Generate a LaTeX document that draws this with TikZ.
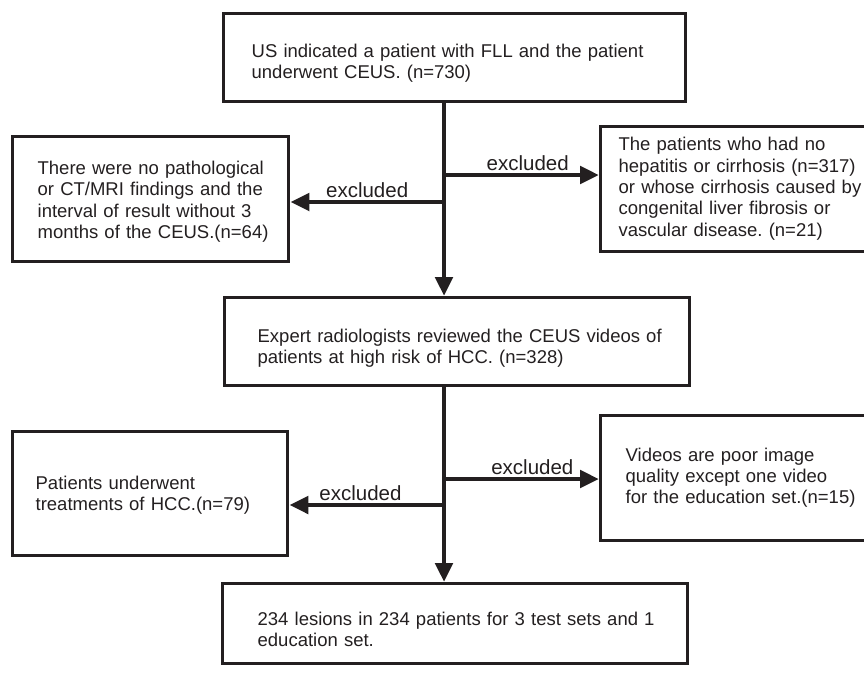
\documentclass[tikz,border=0pt]{standalone}
\usepackage{fontspec}
\setmainfont{Liberation Sans}
\usetikzlibrary{arrows.meta,positioning,calc}
\definecolor{ink}{RGB}{35,31,32}
\frenchspacing
\newcommand{\boxlines}[2][0pt]{\raisebox{-#1}[\height][\depth]{\begin{tabular}{@{}l@{}}#2\end{tabular}}}

\begin{document}
\begin{tikzpicture}[x=1pt,y=-1pt,
      every node/.style={text=ink},
      box/.style={draw=ink,line width=3.3pt,anchor=north west,align=left,inner ysep=0pt,
        font=\fontsize{18.5}{21.3}\selectfont},
      arr/.style={draw=ink,line width=4.8pt,-{Triangle[length=19pt,width=17pt]}},
      lab/.style={font=\fontsize{20.5}{24}\selectfont,inner sep=2pt}
    ]
      \clip (0,0) rectangle (864,672);
      \useasboundingbox (0,0) rectangle (864,672);

      \node[box,minimum width=462pt,minimum height=88pt,inner xsep=28pt,text width=406pt] (us) at (222,12)
        {\boxlines[6pt]{US indicated a patient with FLL and the patient\\underwent CEUS. (n=730)}};
      \node[box,minimum width=276pt,minimum height=125pt,inner xsep=25pt,text width=226pt] (noref) at (11,135)
        {\boxlines[3pt]{There were no pathological\\or CT/MRI findings and the\\interval of result without 3\\months of the CEUS.(n=64)}};
      \node[box,minimum width=290pt,minimum height=125pt,inner xsep=18pt,text width=254pt] (nohcc) at (599,125)
        {\boxlines{The patients who had no\\hepatitis or cirrhosis (n=317)\\or whose cirrhosis caused by\\congenital liver fibrosis or\\vascular disease. (n=21)}};
      \node[box,minimum width=465pt,minimum height=88pt,inner xsep=33pt,text width=399pt] (review) at (223,296)
        {\boxlines[7pt]{Expert radiologists reviewed the CEUS videos of\\patients at high risk of HCC. (n=328)}};
      \node[box,minimum width=275pt,minimum height=124pt,inner xsep=23pt,text width=229pt] (treated) at (11,430)
        {\boxlines[2pt]{Patients underwent\\treatments of HCC.(n=79)}};
      \node[box,minimum width=290pt,minimum height=125pt,inner xsep=25pt,text width=240pt] (poor) at (599,414)
        {\boxlines{Videos are poor image\\quality except one video\\for the education set.(n=15)}};
      \node[box,minimum width=465pt,minimum height=80pt,inner xsep=35pt,text width=395pt] (sets) at (221,582)
        {\boxlines[8pt]{234 lesions in 234 patients for 3 test sets and 1\\education set.}};

      \coordinate (spine) at (444,0);
      \coordinate (j1) at (444,175);
      \coordinate (j2) at (444,202);
      \coordinate (j3) at (444,479);
      \coordinate (j4) at (444,505);

      \draw[arr] (us.south -| spine) -- (review.north -| spine);
      \draw[arr] (j1) -- (j1 -| nohcc.west) node[lab,pos=.54,above] {excluded};
      \draw[arr] (j2) -- (j2 -| noref.east) node[lab,midway,above] {excluded};
      \draw[arr] (review.south -| spine) -- (sets.north -| spine);
      \draw[arr] (j3) -- (j3 -| poor.west) node[lab,pos=.57,above] {excluded};
      \draw[arr] (j4) -- (j4 -| treated.east) node[lab,pos=.54,above] {excluded};
    \end{tikzpicture}
\end{document}
